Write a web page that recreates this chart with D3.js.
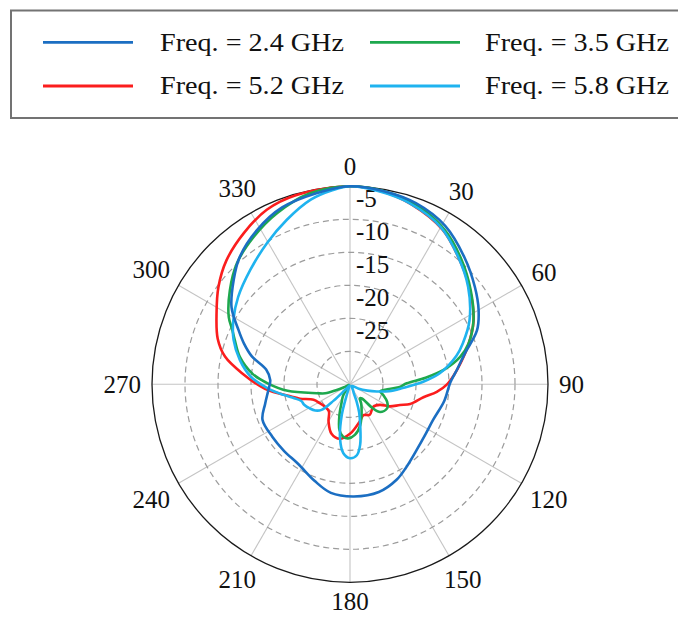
<!DOCTYPE html>
<html>
<head>
<meta charset="utf-8">
<script src="https://cdn.jsdelivr.net/npm/d3@7"></script>
<style>
  body { margin: 0; background: #fff; }
  svg { display: block; }
  text { font-family: "Liberation Serif", "Times New Roman", serif; fill: #111; }
</style>
</head>
<body>
<svg id="chart" width="678" height="619"></svg>
<script>
// Angular ticks (degrees, clockwise from top) and radial gain ticks (dB)
const angleTicks = [0, 30, 60, 90, 120, 150, 180, 210, 240, 270, 300, 330];
const gainTicks = [-5, -10, -15, -20, -25];
const gainDomain = [-30, 0];

const seriesNames = ["Freq. = 2.4 GHz", "Freq. = 3.5 GHz", "Freq. = 5.2 GHz", "Freq. = 5.8 GHz"];
const seriesColors = ["#1b6ec2", "#1ea84e", "#fb1d1d", "#1fb3ef"];

// Normalised radiation patterns: angle (deg) and gain (dB)
const angles24 = [0,10,20,31,42,52,60,67,75,82,89,100,113,123,135,146,154,165,178,190,200,213,225,236,248,257,266,273,280,286,291,296,303,312,319,329,339,350];
const gain24   = [0,-0.3,-0.8,-2.0,-4.1,-6.0,-7.5,-9.1,-12.0,-13.6,-14.8,-15.5,-16.3,-16.3,-15.8,-14.8,-13.9,-13.1,-13.0,-13.3,-14.4,-15.6,-15.8,-15.8,-15.7,-16.8,-17.6,-17.9,-17.1,-14.5,-12.8,-11.2,-8.6,-6.3,-4.5,-2.7,-1.3,-0.6];

const angles35 = [0,10,20,31.5,42,52,62.5,71,76,81,85,89,93.5,97.5,103,108,115,123,132.5,136.5,140,144.5,150,157,166,174.5,182,187.5,193,199,205,212,220,236,244,247,250,255,264,270.5,276,284,291,295,299,308,317,327,337,348];
const gain35   = [0,-0.3,-1.0,-2.55,-4.7,-6.8,-8.9,-11.0,-12.8,-15.5,-18.5,-21.4,-22.6,-24.3,-25.3,-24.7,-23.8,-23.3,-23.8,-25.0,-27.2,-27.4,-26.6,-25.5,-23.6,-22.3,-21.8,-22.0,-22.9,-25.1,-27.0,-28.1,-29.8,-29.8,-29.0,-27.7,-26.0,-24.8,-20.5,-17.6,-15.2,-12.8,-11.3,-10.3,-9.0,-6.9,-4.9,-3.3,-1.8,-0.45];

const angles52 = [0,10,19,31,41.5,52,63,72,79,85,90,95,100,108,112.5,119,124.5,134,147,156.5,165,173.5,180,190.5,200.5,210,218,228,238,247,254,258,267,276,282.5,289,298,306.5,315,325,334.5,344];
const gain52   = [0,-0.4,-1.2,-2.7,-4.9,-6.9,-9.0,-11.2,-12.9,-14.2,-15.3,-16.8,-18.7,-20.4,-21.8,-23.1,-24.5,-25.1,-24.5,-24.9,-24.2,-23.3,-22.5,-21.6,-22.0,-23.5,-24.8,-24.9,-24.6,-24.0,-22.1,-21.0,-17.1,-13.5,-10.6,-8.8,-7.1,-5.2,-3.5,-2.0,-0.7,-0.2];

const angles58 = [0,8,18,30,40,50.5,62,70,75,83,88,94,100,105,110,117,130,145,153,157,159,162,166,170.5,174.5,180,185.5,190.5,195,197,205,215,222,225,228,233,239,246,251,256,261,267,274.5,282.5,291,299,308,319,329.5,339,348,355];
const gain58   = [0,-0.4,-1.1,-2.5,-4.6,-6.8,-9.5,-11.8,-13.3,-16.3,-18.9,-22.0,-24.0,-25.8,-27.2,-28.5,-29.6,-29.5,-29.0,-28.5,-27.2,-25.5,-23.6,-20.7,-19.2,-18.8,-19.5,-21.7,-25.2,-28.3,-29.8,-29.6,-28.8,-26.5,-24.2,-23.4,-22.9,-22.4,-22.2,-21.3,-19.8,-17.6,-14.9,-12.9,-11.1,-9.8,-8.5,-7.0,-5.2,-3.3,-1.4,-0.45];

const seriesAngles = [angles24, angles35, angles52, angles58];
const seriesGains = [gain24, gain35, gain52, gain58];

const series = seriesNames.map((name, i) => ({
  name,
  color: seriesColors[i],
  points: seriesAngles[i].map((a, j) => [a, seriesGains[i][j]])
}));

// ---- layout ----
const svg = d3.select("#chart");
const cx = 350, cy = 384.3, R = 198;
const r = d3.scaleLinear().domain(gainDomain).range([0, R]).clamp(true);
const rad = d => d * Math.PI / 180;

const g = svg.append("g").attr("transform", `translate(${cx},${cy})`);

// spokes every 30 degrees
g.append("g").selectAll("line").data(angleTicks).join("line")
  .attr("x1", 0).attr("y1", 0)
  .attr("x2", d => R * Math.sin(rad(d)))
  .attr("y2", d => -R * Math.cos(rad(d)))
  .attr("stroke", "#c4c4c4").attr("stroke-width", 1.1);

// dashed gain rings
g.append("g").selectAll("circle").data(gainTicks).join("circle")
  .attr("r", d => r(d))
  .attr("fill", "none")
  .attr("stroke", "#9c9c9c").attr("stroke-width", 1.2)
  .attr("stroke-dasharray", "6,4");

// outer boundary
g.append("circle").attr("r", r(gainDomain[1]))
  .attr("fill", "none").attr("stroke", "#1a1a1a").attr("stroke-width", 1.3);

// radial tick labels along the 0-degree spoke
g.append("g").selectAll("text").data(gainTicks).join("text")
  .attr("x", 6)
  .attr("y", d => -r(d) - 12)
  .attr("font-size", 25)
  .text(d => d);

// angular labels, pushed out by the projected half-extent of each label
const angleLabels = g.append("g").selectAll("text").data(angleTicks).join("text")
  .attr("font-size", 25)
  .attr("text-anchor", "middle")
  .attr("dy", "0.34em")
  .text(d => d);
angleLabels.each(function(d) {
  const w = this.getComputedTextLength();
  const h = 17;
  const s = Math.sin(rad(d)), c = Math.cos(rad(d));
  const dist = R + 11 + (w / 2) * Math.abs(s) + (h / 2) * Math.abs(c);
  d3.select(this).attr("x", dist * s).attr("y", -dist * c);
});

// pattern curves
const line = d3.lineRadial()
  .angle(d => rad(d[0]))
  .radius(d => r(d[1]))
  .curve(d3.curveCatmullRomClosed.alpha(0.5));

const drawOrder = [2, 1, 3, 0];
g.append("g").selectAll("path").data(drawOrder.map(i => series[i])).join("path")
  .attr("d", d => line(d.points))
  .attr("fill", "none")
  .attr("stroke", d => d.color)
  .attr("stroke-width", 2.6)
  .attr("stroke-linejoin", "round");

// ---- legend ----
const legend = svg.append("g");
legend.append("rect")
  .attr("x", 11).attr("y", 10.5)
  .attr("width", 700).attr("height", 107.5)
  .attr("fill", "#fff")
  .attr("stroke", "#737373").attr("stroke-width", 2);

const colLine = [43, 370], colText = [160, 485], rowY = [42.3, 86];
const labelWidth = 184;
const items = legend.selectAll("g.item").data(series).join("g").attr("class", "item")
  .attr("transform", (d, i) => `translate(0,${rowY[Math.floor(i / 2)]})`);
items.append("line")
  .attr("x1", (d, i) => colLine[i % 2]).attr("x2", (d, i) => colLine[i % 2] + 90)
  .attr("y1", 0).attr("y2", 0)
  .attr("stroke", d => d.color).attr("stroke-width", 2.8);
// labels are set in a slightly widened serif face
items.append("text")
  .attr("font-size", 25)
  .text(d => d.name)
  .each(function(d, i) {
    const k = labelWidth / this.getComputedTextLength();
    d3.select(this).attr("transform", `translate(${colText[i % 2]},8.4) scale(${k},1)`);
  });
</script>
</body>
</html>
